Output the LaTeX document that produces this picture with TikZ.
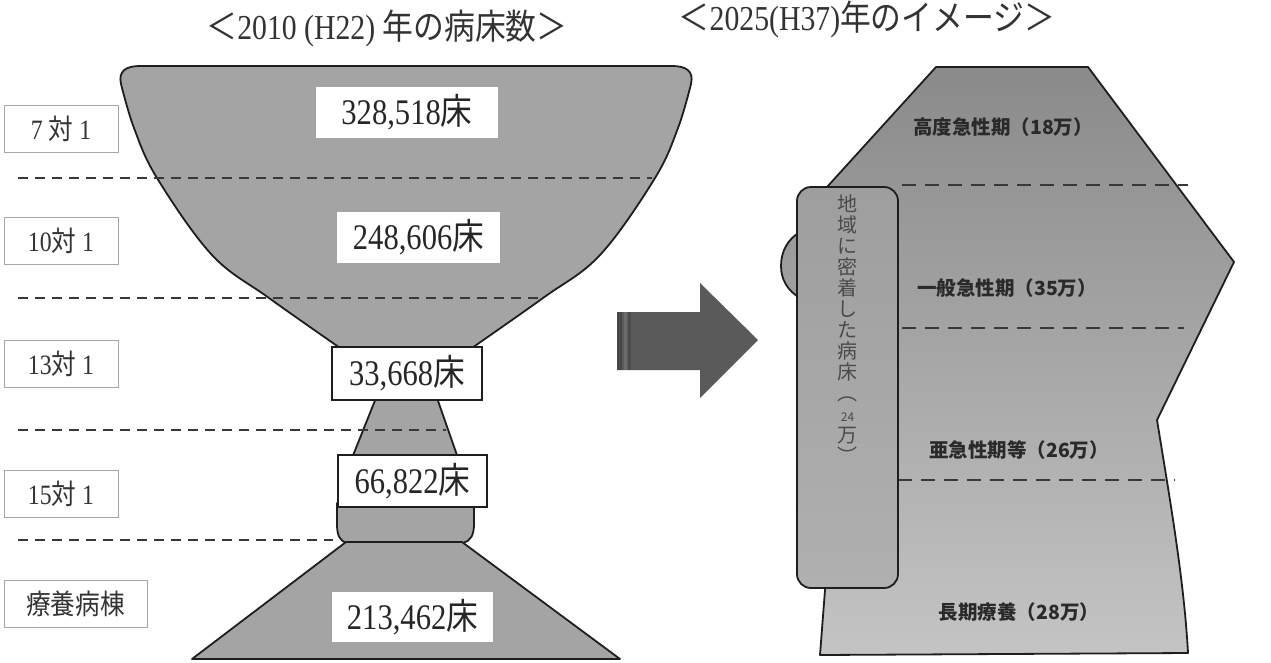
\documentclass[tikz,border=0pt]{standalone}
\usepackage{fontspec}
\setmainfont[FakeStretch=0.85]{Liberation Serif}
\newfontfamily\jp[FakeStretch=0.88]{Noto Sans CJK JP}
\newfontfamily\jpg{Noto Sans CJK JP}
\definecolor{gobfill}{HTML}{A4A4A4}
\definecolor{edge}{HTML}{1E1E1E}
\definecolor{dash}{HTML}{383838}
\definecolor{lbltext}{HTML}{333333}
\definecolor{arrowfill}{HTML}{5A5A5A}
\definecolor{rtop}{HTML}{8A8A8A}
\definecolor{rbot}{HTML}{C4C4C4}
\definecolor{rtext}{HTML}{2A2A2A}
\definecolor{vtextc}{HTML}{4A4A4A}
\begin{document}
\begin{tikzpicture}[x=1pt,y=-1pt,
  gob/.style={fill=gobfill,draw=edge,line width=1.8pt,line join=round},
  ldash/.style={draw=dash,line width=2pt,dash pattern=on 10pt off 7pt},
  rdash/.style={draw=dash,line width=2.2pt,dash pattern=on 14pt off 9pt},
  lbl/.style={draw=gray!70,line width=1pt,fill=white,minimum width=114pt,minimum height=47pt,
    inner sep=0pt,text=lbltext,font=\fontsize{28}{28}\selectfont},
  numbox/.style={fill=white,inner sep=0pt,minimum height=51pt,text=black!85,
    font=\fontsize{36}{36}\selectfont},
  numboxb/.style={numbox,draw=edge,line width=1.4pt},
  ttl/.style={text=black!80,inner sep=0pt,font=\fontsize{35}{35}\selectfont},
  rlab/.style={text=rtext,inner sep=0pt,font=\jpg\bfseries\fontsize{19.5}{19.5}\selectfont}
]
\useasboundingbox (0,0) rectangle (1271,662);
\fill[white] (0,0) rectangle (1271,662);

% titles
\node[ttl] (t1) at (387,28) {{\jp ＜}2010 (H22) {\jp 年の病床数＞}};
\node[ttl] (t2) at (867,19) {{\jp ＜}2025(H37){\jp 年のイメージ＞}};

% ---------- left goblet ----------
\path[gob] (121,84) .. controls (118,71) and (126,66) .. (140,66) -- (672,66)
  .. controls (686,66) and (694,71) .. (691,84)
  -- plot[smooth,tension=0.6] coordinates {(691,84) (678,128) (655,178) (600,255) (543,298) (469,350)}
  -- (343,350)
  -- plot[smooth,tension=0.6] coordinates {(343,350) (269,298) (212,255) (157,178) (134,128) (121,84)}
  -- cycle;
\path[gob] (376,398) -- (437,398) -- (458,458) -- (352,458) -- cycle;
\path[gob] (337,503) -- (337,524) .. controls (337,536) and (340,541) .. (347,543)
  -- (463,543) .. controls (470,541) and (474,536) .. (474,524) -- (474,503) -- cycle;
\path[gob] (346,542) -- (462,542) -- (620,659) -- (192,659) -- cycle;

% left dashed lines
\draw[ldash] (18,178) -- (652,178);
\draw[ldash] (18,298) -- (541,298);
\draw[ldash] (18,430) -- (446,430);
\draw[ldash] (18,540) -- (333,540);

% number boxes
\node[numbox,minimum width=182pt] (n1) at (407,112.5) {328,518{\jp 床}};
\node[numbox,minimum width=163pt] (n2) at (418.5,237.5) {248,606{\jp 床}};
\node[numboxb,minimum width=150pt,minimum height=53pt] (n3) at (407,373.5) {33,668{\jp 床}};
\node[numboxb,minimum width=149pt,minimum height=52pt] (n4) at (412.5,481) {66,822{\jp 床}};
\node[numbox,minimum width=161pt,minimum height=50pt] (n5) at (412.5,617) {213,462{\jp 床}};

% left labels
\node[lbl] (l1) at (61,129) {7 {\jp 対} 1};
\node[lbl] (l2) at (61,241) {10{\jp 対} 1};
\node[lbl] (l3) at (61,364) {13{\jp 対} 1};
\node[lbl] (l4) at (61,494) {15{\jp 対} 1};
\node[lbl,minimum width=143pt] (l5) at (75.5,604) {{\jp 療養病棟}};

% ---------- arrow ----------
\path[fill=arrowfill] (617,312) -- (700,312) -- (700,283) -- (758,340) -- (700,398) -- (700,370) -- (617,370) -- cycle;
\fill[black!72] (617,312) rectangle (622,370);
\fill[black!58] (624,312) rectangle (627,370);
\fill[black!70] (628,312) rectangle (631,370);

% ---------- right shape ----------
\path[draw=edge,line width=1.8pt,line join=round,top color=rtop,bottom color=rbot]
  (936,67) -- (1088,67) -- (1234,262) -- (1157,420)
  .. controls (1170,500) and (1184,580) .. (1188,653)
  -- (820,655) -- (825,590) -- (800,298)
  .. controls (788,291) and (781,280) .. (781,266)
  .. controls (781,251) and (788,239) .. (800,232)
  -- (827,187) -- cycle;

\draw[rdash] (902,185) -- (1188,185);
\draw[rdash] (902,328) -- (1184,328);
\draw[rdash] (898,480) -- (1175,480);

\node[rlab] (r1) at (1003,127) {高度急性期（18万）};
\node[rlab] (r2) at (1007,288) {一般急性期（35万）};
\node[rlab] (r3) at (1019,450) {亜急性期等（26万）};
\node[rlab] (r4) at (1019,612) {長期療養（28万）};

% vertical box
\node[draw=edge,line width=1.8pt,rounded corners=14pt,top color=black!38,bottom color=black!31,
  minimum width=101pt,minimum height=401pt,inner sep=0pt] (vb) at (847.5,387.5) {};
\node[anchor=north,align=center,inner sep=0pt,text=vtextc,
  font=\jpg\fontsize{20}{21}\selectfont] (vt) at ([yshift=-8pt]vb.north)
  {地\\域\\に\\密\\着\\し\\た\\病\\床\\︵\\{\fontsize{12}{12}\selectfont 24}\\万\\︶};
\end{tikzpicture}
\end{document}
